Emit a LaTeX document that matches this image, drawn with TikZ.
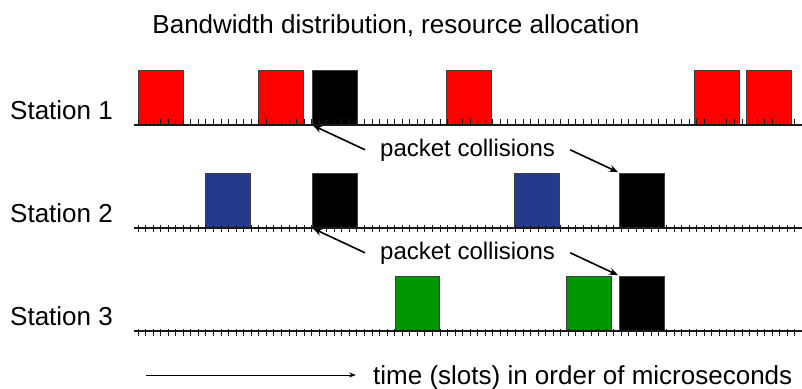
\documentclass[tikz,border=0pt]{standalone}
\usepackage{fontspec}
\setmainfont{Liberation Sans}
\usepackage{tikz}
\usetikzlibrary{positioning,arrows.meta}
\definecolor{stblue}{RGB}{37,58,138}
\definecolor{stgreen}{RGB}{0,150,0}

\begin{document}
\begin{tikzpicture}[x=1bp, y=-1bp,
        packet/.style={rectangle, draw=black!75, thin, inner sep=0pt, anchor=south west, minimum width=45bp, minimum height=55bp},
        biglabel/.style={font=\fontsize{26bp}{30bp}\selectfont, inner sep=0pt},
        collabel/.style={font=\fontsize{24bp}{28bp}\selectfont, inner ysep=0pt, inner xsep=15bp},
        colarrow/.style={line width=1.6bp, -{Stealth[length=9bp,width=7bp]}, shorten >=1bp}]

        \useasboundingbox (0,0) rectangle (802,388);

        \node[biglabel, anchor=base] (title) at (396,33) {Bandwidth distribution, resource allocation};

        % station names
        \node[biglabel, anchor=base west] (s1) at (10,119) {Station 1};
        \node[biglabel, anchor=base west] (s2) at (10,222) {Station 2};
        \node[biglabel, anchor=base west] (s3) at (10,325) {Station 3};

        % station 1 packets
        \node[packet, fill=red] (p1a) at (138,125) {};
        \node[packet, fill=red] (p1b) at (258,125) {};
        \node[packet, fill=black] (p1c) at (312,125) {};
        \node[packet, fill=red] (p1d) at (446,125) {};
        \node[packet, fill=red] (p1e) at (694,125) {};
        \node[packet, fill=red] (p1f) [right=7bp of p1e] {};

        % station 2 packets
        \node[packet, fill=stblue] (p2a) at (205,228) {};
        \node[packet, fill=black] (p2b) at (312,228) {};
        \node[packet, fill=stblue] (p2c) at (514,228) {};
        \node[packet, fill=black] (p2d) at (619,228) {};

        % station 3 packets
        \node[packet, fill=stgreen, minimum width=44bp] (p3a) at (395,331) {};
        \node[packet, fill=stgreen] (p3b) at (566,331) {};
        \node[packet, fill=black] (p3c) at (619,331) {};

        % time lines with slots
        \foreach \y/\up in {125/6, 228/3, 331/2} {
            \draw[line width=1.3bp, black!90] (134,\y) -- (802,\y);
            \foreach \i in {0,...,87}
                \draw[line width=1bp, black!90] (138+\i*7.55,\y-\up) -- ++(0,7);
        }

        % collisions
        \node[collabel, anchor=base west] (c1) at (365,156) {packet collisions};
        \node[collabel, anchor=base west] (c2) at (365,259) {packet collisions};
        \draw[colarrow] (c1.west) -- (p1c.south west);
        \draw[colarrow] (c1.east) -- (p2d.north west);
        \draw[colarrow] (c2.west) -- (p2b.south west);
        \draw[colarrow] (c2.east) -- (p3c.north west);

        % time axis
        \coordinate (t0) at (146,375);
        \coordinate (t1) at (356,375);
        \draw[line width=1bp, -{Stealth[length=7bp,width=5bp]}] (t0) -- (t1);
        \node[biglabel, anchor=base west] (tlabel) at (373,384) {time (slots) in order of microseconds};

\end{tikzpicture}
\end{document}
